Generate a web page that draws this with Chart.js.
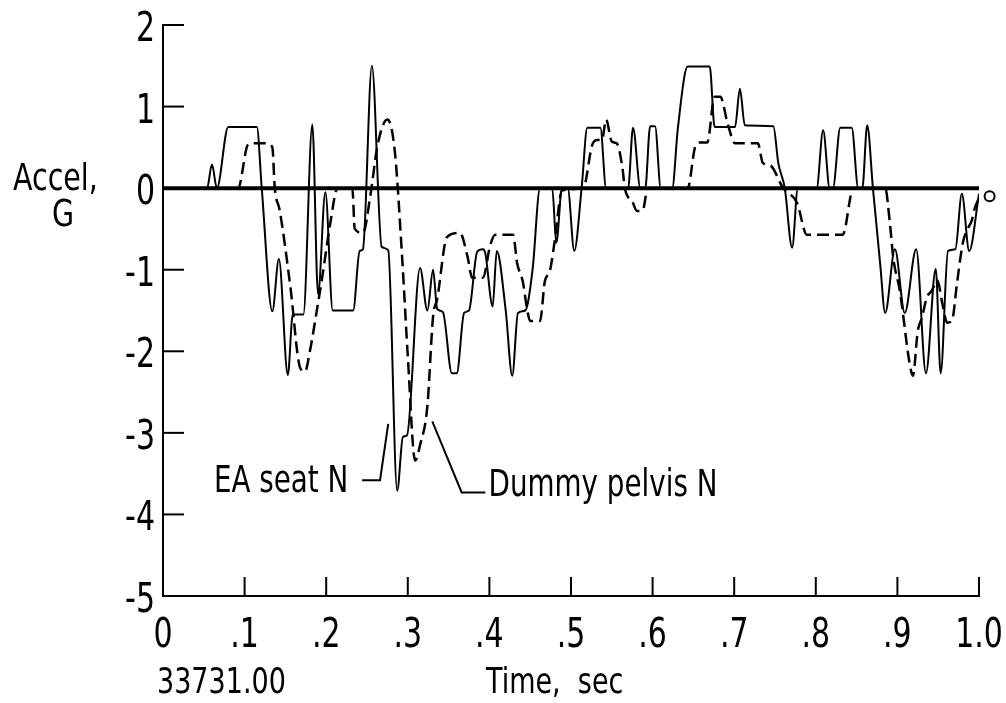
<!DOCTYPE html>
<html>
<head>
<meta charset="utf-8">
<script src="https://cdn.jsdelivr.net/npm/chart.js@4.4.1/dist/chart.umd.min.js"></script>
<style>
  html, body { margin: 0; padding: 0; background: #fff; }
  canvas { display: block; }
</style>
</head>
<body>
<canvas id="accelChart" width="1006" height="703"></canvas>
<script>
// EA seat N (solid) - time in sec, accel in G
const seatTime = [0, 0.054, 0.060, 0.066, 0.080, 0.115, 0.121, 0.134, 0.142, 0.153, 0.159, 0.172, 0.183, 0.190,
  0.199, 0.208, 0.233, 0.241, 0.245, 0.256, 0.268, 0.276, 0.287, 0.294, 0.299, 0.315, 0.324, 0.331, 0.336,
  0.343, 0.354, 0.360, 0.369, 0.375, 0.385, 0.392, 0.395, 0.404, 0.409, 0.420, 0.428, 0.435, 0.444, 0.453,
  0.462, 0.477, 0.482, 0.489, 0.496, 0.504, 0.513, 0.520, 0.536, 0.543, 0.570, 0.576, 0.585, 0.591, 0.597,
  0.603, 0.610, 0.624, 0.631, 0.643, 0.670, 0.676, 0.701, 0.707, 0.713, 0.748, 0.754, 0.762, 0.771, 0.778,
  0.801, 0.809, 0.817, 0.821, 0.830, 0.844, 0.852, 0.857, 0.863, 0.870, 0.879, 0.885, 0.897, 0.909, 0.923,
  0.935, 0.947, 0.953, 0.962, 0.971, 0.979, 0.988, 1.000];
const seatAccel = [0, 0, 0.29, 0, 0.75, 0.75, 0, -1.51, -0.87, -2.29, -1.55, -1.55, 0.78, -1.3,
  -0.05, -1.5, -1.5, -0.77, -0.75, 1.50, -0.72, -0.76, -3.71, -3.05, -3.03, -0.98, -1.5, -1.0, -1.48,
  -1.52, -2.27, -2.27, -1.53, -1.5, -0.78, -0.75, -0.8, -1.45, -0.77, -1.5, -2.3, -1.53, -1.5, -0.99,
  0, 0, -0.67, 0, 0, -0.77, 0, 0.74, 0.74, 0, 0, 0.74, 0, 0, 0.76,
  0.76, 0, 0, 0.74, 1.49, 1.49, 0.75, 0.75, 1.22, 0.77, 0.76, 0.31, 0, -0.73, 0,
  0, 0.71, 0, 0, 0.74, 0.74, 0, 0, 0.77, 0, -0.94, -1.53, -0.75, -1.53, -0.75,
  -2.27, -0.99, -2.27, -0.77, -0.75, -0.07, -0.77, -0.07];

// Dummy pelvis N (dashed)
const pelvisTime = [0, 0.092, 0.104, 0.110, 0.127, 0.134, 0.137, 0.143, 0.156, 0.168, 0.174, 0.180, 0.189,
  0.195, 0.205, 0.214, 0.232, 0.235, 0.245, 0.254, 0.263, 0.275, 0.284, 0.293, 0.300, 0.309, 0.315, 0.324,
  0.331, 0.336, 0.348, 0.364, 0.373, 0.379, 0.392, 0.401, 0.407, 0.429, 0.434, 0.441, 0.446, 0.450, 0.462,
  0.468, 0.474, 0.480, 0.489, 0.515, 0.526, 0.532, 0.538, 0.543, 0.550, 0.556, 0.563, 0.566, 0.575, 0.581,
  0.588, 0.594, 0.643, 0.652, 0.658, 0.667, 0.676, 0.683, 0.692, 0.701, 0.729, 0.735, 0.744, 0.760, 0.777,
  0.789, 0.833, 0.846, 0.885, 0.891, 0.895, 0.903, 0.915, 0.919, 0.925, 0.930, 0.936, 0.942, 0.949, 0.955,
  0.961, 0.967, 0.973, 0.980, 0.985, 0.991, 0.995, 1.000];
const pelvisAccel = [0, 0, 0.53, 0.55, 0.55, 0.5, 0, -0.27, -1.2, -2.2, -2.25, -2.0, -1.47,
  -1.1, -0.43, 0, 0, -0.5, -0.55, -0.1, 0.53, 0.84, 0.46, -0.84, -2.06, -3.34, -3.15, -2.67,
  -1.57, -1.36, -0.6, -0.55, -0.83, -1.1, -1.1, -0.7, -0.57, -0.57, -0.92, -1.15, -1.47, -1.63, -1.63,
  -1.14, -1.02, -0.65, -0.03, 0, 0.53, 0.59, 0.59, 0.84, 0.57, 0.55, 0.25, 0, -0.16, -0.28,
  -0.27, 0, 0, 0.5, 0.56, 0.56, 1.12, 1.12, 0.79, 0.55, 0.55, 0.31, 0.28, 0, -0.18,
  -0.57, -0.57, 0, 0, -0.45, -0.86, -1.26, -2.15, -2.3, -1.75, -1.59, -1.34, -1.26, -1.13, -1.41,
  -1.65, -1.62, -1.17, -0.68, -0.52, -0.4, -0.24, -0.12];

const yTickValues = [2, 1, 0, -1, -2, -3, -4, -5];
const xTickValues = [0, 0.1, 0.2, 0.3, 0.4, 0.5, 0.6, 0.7, 0.8, 0.9, 1.0];
const xTickLabels = ['0', '.1', '.2', '.3', '.4', '.5', '.6', '.7', '.8', '.9', '1.0'];

const toPoints = (xs, ys) => xs.map((x, i) => ({ x: x, y: ys[i] }));

// condensed lettering like the report font
function condText(ctx, str, x, y, size, align) {
  ctx.save();
  ctx.font = size + 'px "DejaVu Sans", sans-serif';
  ctx.fillStyle = '#000';
  ctx.textBaseline = 'alphabetic';
  ctx.textAlign = align || 'left';
  ctx.translate(x, y);
  ctx.scale(0.75, 1);
  ctx.fillText(str, 0, 0);
  ctx.restore();
}

const axisDecor = {
  id: 'axisDecor',
  afterDraw(chart) {
    const ctx = chart.ctx;
    const xs = chart.scales.x;
    const ys = chart.scales.y;
    const area = chart.chartArea;

    ctx.save();
    ctx.strokeStyle = '#000';
    ctx.lineWidth = 2;
    // inward ticks
    yTickValues.forEach(v => {
      const py = ys.getPixelForValue(v);
      ctx.beginPath();
      ctx.moveTo(area.left, py);
      ctx.lineTo(area.left + 21, py);
      ctx.stroke();
    });
    xTickValues.forEach(v => {
      const px = xs.getPixelForValue(v);
      ctx.beginPath();
      ctx.moveTo(px, area.bottom);
      ctx.lineTo(px, area.bottom - 19);
      ctx.stroke();
    });

    // small open circle at the end of the zero line
    ctx.beginPath();
    ctx.arc(xs.getPixelForValue(1.013), ys.getPixelForValue(-0.1), 5, 0, Math.PI * 2);
    ctx.fillStyle = '#fff';
    ctx.fill();
    ctx.stroke();

    // leader lines for the curve labels
    const leader = pts => {
      ctx.beginPath();
      pts.forEach(([vx, vy], i) => {
        const px = xs.getPixelForValue(vx), py = ys.getPixelForValue(vy);
        if (i === 0) ctx.moveTo(px, py); else ctx.lineTo(px, py);
      });
      ctx.stroke();
    };
    leader([[0.244, -3.58], [0.266, -3.58], [0.276, -2.89]]);
    leader([[0.330, -2.86], [0.366, -3.73], [0.395, -3.73]]);
    ctx.restore();

    // tick labels
    yTickValues.forEach(v => {
      condText(ctx, String(v), area.left - 8, ys.getPixelForValue(v) + 16, 40, 'right');
    });
    xTickValues.forEach((v, i) => {
      condText(ctx, xTickLabels[i], xs.getPixelForValue(v), 647, 40, 'center');
    });

    // titles and notes
    condText(ctx, 'Accel,', 13, 190, 38, 'left');
    condText(ctx, 'G', 63, 226, 38, 'center');
    condText(ctx, 'Time,  sec', xs.getPixelForValue(0.48), 693, 36, 'center');
    condText(ctx, '33731.00', 157, 693, 36, 'left');
    condText(ctx, 'EA seat N', xs.getPixelForValue(0.227), ys.getPixelForValue(-3.72), 37, 'right');
    condText(ctx, 'Dummy pelvis N', xs.getPixelForValue(0.399), ys.getPixelForValue(-3.78), 37, 'left');
  }
};

const chart = new Chart(document.getElementById('accelChart'), {
  type: 'line',
  data: {
    datasets: [
      {
        label: 'EA seat N',
        data: toPoints(seatTime, seatAccel),
        borderColor: '#000',
        borderWidth: 2,
        pointRadius: 0,
        cubicInterpolationMode: 'monotone',
        fill: false
      },
      {
        label: 'Dummy pelvis N',
        data: toPoints(pelvisTime, pelvisAccel),
        borderColor: '#000',
        borderWidth: 2.5,
        borderDash: [12, 6],
        pointRadius: 0,
        cubicInterpolationMode: 'monotone',
        fill: false
      },
      {
        label: 'zero',
        data: [{ x: 0, y: 0 }, { x: 1, y: 0 }],
        borderColor: '#000',
        borderWidth: 4,
        pointRadius: 0
      }
    ]
  },
  options: {
    responsive: false,
    animation: false,
    devicePixelRatio: 1,
    layout: { padding: { left: 155, right: 27, top: 25, bottom: 99 } },
    plugins: {
      legend: { display: false },
      tooltip: { enabled: false }
    },
    scales: {
      x: {
        type: 'linear',
        min: 0,
        max: 1,
        grid: { display: false },
        border: { display: true, color: '#000', width: 2 },
        ticks: { display: false }
      },
      y: {
        type: 'linear',
        min: -5,
        max: 2,
        grid: { display: false },
        border: { display: true, color: '#000', width: 2 },
        ticks: { display: false }
      }
    }
  },
  plugins: [axisDecor]
});
</script>
</body>
</html>
